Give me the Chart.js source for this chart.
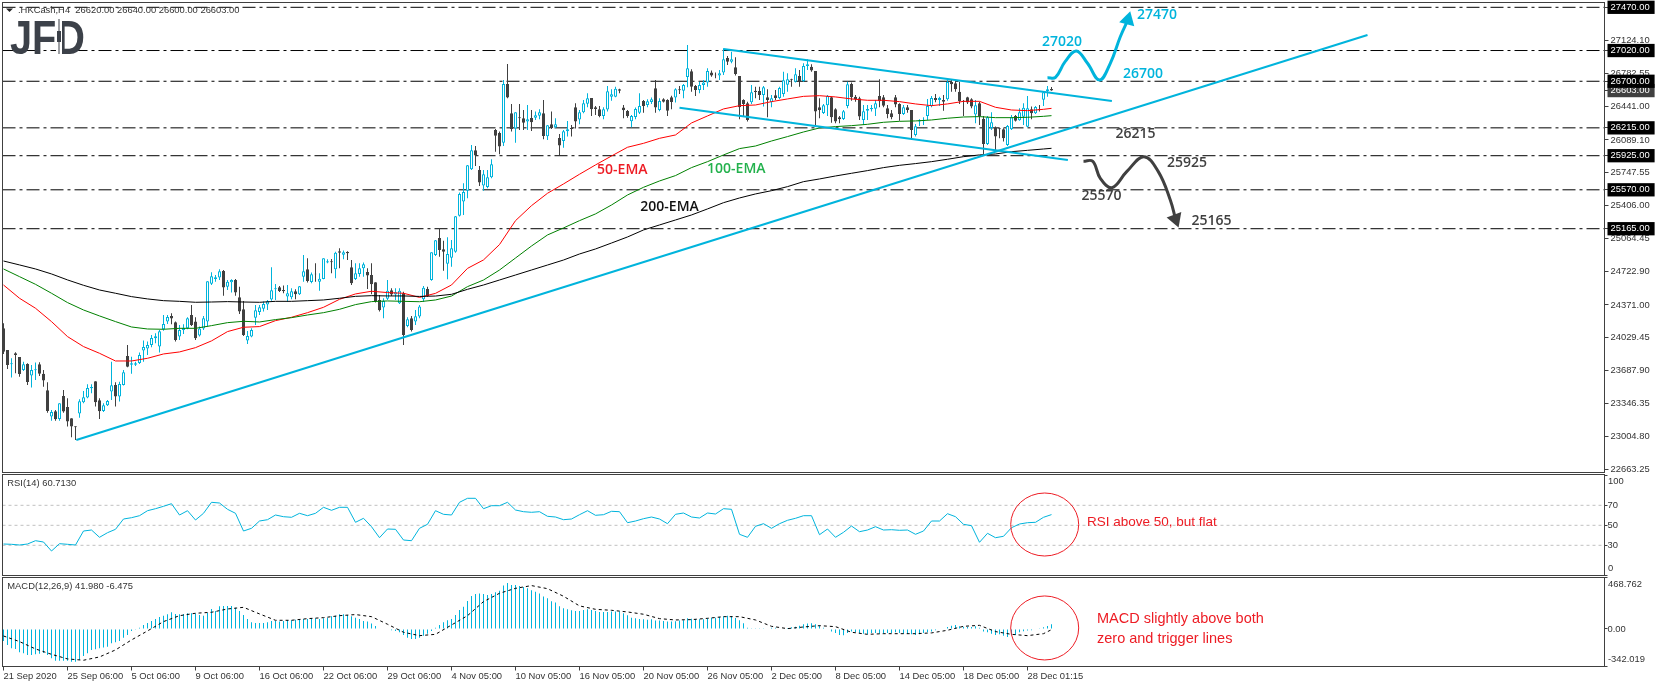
<!DOCTYPE html>
<html>
<head>
<meta charset="utf-8">
<title>HKCash H4</title>
<script src="https://cdn.jsdelivr.net/npm/chart.js@4"></script>
<style>
html, body { margin: 0; padding: 0; background: #fff; overflow: hidden; }
canvas { position: absolute; left: 0; display: block; }
</style>
</head>
<body>
<canvas id="price" width="1655" height="474" style="top:0"></canvas>
<canvas id="rsi" width="1655" height="102" style="top:474px"></canvas>
<canvas id="macd" width="1655" height="111" style="top:576px"></canvas>
<script>
// candles, one row per ten H4 bars
const opens = [
24128,23903,23754,23868,23830,23695,23757,23636,23691,23754,
23656,23483,23209,23264,23185,23424,23309,23191,23108,23240,
23358,23407,23504,23577,23379,23268,23327,23469,23539,23417,
23539,23840,23750,23750,23767,23896,23917,23955,24024,23938,
24118,24198,24257,24191,24042,24111,24128,24267,24198,24052,
24125,24198,24593,24642,24656,24725,24562,24607,24632,24451,
24326,24000,24042,24239,24298,24333,24375,24427,24534,24555,
24527,24458,24451,24514,24482,24666,24743,24611,24697,24614,
24642,24812,24826,24743,24930,24895,24923,24763,24642,24694,
24753,24715,24684,24607,24423,24344,24437,24524,24479,24389,
24493,24153,24232,24198,24250,24430,24537,24631,24891,25068,
24950,24801,24863,24926,25301,25447,25561,25784,25981,25777,
25614,25600,25700,26193,26162,26061,26672,26366,26207,26325,
26314,26280,26318,26321,26342,26366,26127,26252,26221,26110,
26078,26179,26214,26429,26301,26377,26467,26526,26429,26408,
26339,26405,26540,26540,26616,26426,26391,26283,26328,26373,
26495,26453,26484,26627,26401,26512,26505,26533,26530,26616,
26602,26745,26804,26651,26609,26661,26686,26790,26769,26759,
26790,26943,26904,26845,26755,26505,26471,26481,26602,26599,
26557,26533,26481,26554,26526,26568,26665,26720,26696,26755,
26703,26859,26852,26807,26429,26370,26450,26533,26408,26325,
26307,26443,26672,26540,26523,26297,26394,26408,26415,26547,
26533,26419,26366,26533,26464,26360,26429,26401,26141,26280,
26283,26339,26443,26526,26505,26505,26512,26693,26679,26592,
26498,26533,26512,26353,26471,26311,26047,26214,26217,26210,
26200,26037,26200,26339,26294,26331,26227,26408,26366,26408,26508,26599,26620];
const closes = [
23885,23747,23764,23851,23653,23754,23570,23695,23702,23656,
23584,23268,23257,23181,23348,23261,23157,23105,23098,23368,
23410,23507,23518,23358,23264,23327,23372,23535,23417,23549,
23670,23729,23764,23764,23851,23934,23955,24028,24045,24097,
24173,24246,24229,24007,24111,24135,24232,24163,24024,24125,
24232,24618,24670,24659,24722,24552,24614,24632,24500,24302,
24059,24049,24111,24316,24347,24382,24409,24524,24545,24517,
24514,24493,24514,24482,24566,24722,24621,24691,24690,24645,
24857,24826,24815,24916,24916,24920,24909,24597,24701,24753,
24795,24677,24586,24406,24316,24413,24520,24479,24503,24520,
24059,24222,24111,24253,24354,24551,24464,24919,25044,24943,
24926,24902,24961,25294,25527,25548,25825,25981,25926,25645,
25732,25700,25836,26134,26020,26672,26530,26203,26377,26314,
26269,26304,26273,26346,26377,26131,26242,26214,26252,26030,
26179,26200,26203,26280,26377,26471,26523,26408,26412,26339,
26408,26596,26564,26623,26602,26398,26339,26339,26412,26443,
26443,26491,26512,26426,26495,26488,26394,26484,26616,26606,
26661,26835,26644,26609,26661,26686,26807,26759,26762,26783,
26929,26904,26929,26776,26429,26464,26297,26585,26589,26557,
26637,26505,26523,26526,26630,26710,26720,26713,26772,26696,
26859,26877,26811,26384,26401,26450,26547,26325,26280,26304,
26387,26668,26533,26512,26332,26387,26412,26422,26471,26491,
26446,26360,26325,26457,26360,26429,26401,26193,26231,26294,
26297,26443,26526,26505,26526,26488,26693,26668,26616,26495,
26488,26478,26436,26450,26339,26047,26325,26273,26124,26200,
26106,26235,26325,26290,26377,26425,26418,26366,26432,26401,26585,26616,26603];
const highs = [
24180,23903,23816,23879,23830,23781,23764,23747,23771,23774,
23695,23566,23278,23278,23348,23486,23400,23191,23108,23389,
23476,23545,23545,23577,23400,23348,23382,23781,23566,23573,
23695,23955,23833,23781,23875,24000,23990,24059,24076,24111,
24267,24267,24285,24198,24163,24170,24243,24371,24243,24146,
24257,24618,24711,24684,24743,24736,24632,24638,24642,24562,
24413,24101,24128,24371,24371,24406,24423,24763,24590,24569,
24573,24579,24545,24534,24569,24892,24857,24708,24805,24701,
24857,24847,24850,24926,24961,24937,24930,24840,24805,24805,
24812,24753,24805,24607,24475,24441,24632,24545,24545,24545,
24510,24243,24257,24319,24370,24568,24562,24919,25047,25169,
25040,25075,25047,25297,25541,25638,25829,26037,26026,25818,
25777,25777,25888,26203,26176,26714,26880,26464,26377,26464,
26401,26453,26401,26384,26408,26505,26245,26384,26314,26151,
26193,26287,26245,26471,26401,26505,26575,26526,26443,26443,
26429,26651,26616,26644,26623,26453,26401,26349,26426,26575,
26505,26512,26530,26714,26523,26523,26512,26550,26627,26651,
26672,27078,26825,26661,26696,26714,26835,26811,26790,26818,
27043,26963,27008,26949,26755,26512,26488,26661,26644,26644,
26651,26616,26557,26609,26644,26800,26783,26727,26835,26818,
26887,26929,26877,26807,26523,26464,26557,26540,26419,26339,
26401,26696,26686,26557,26540,26453,26453,26453,26505,26720,
26557,26453,26401,26557,26471,26453,26453,26401,26255,26304,
26325,26516,26547,26568,26540,26557,26714,26714,26714,26696,
26505,26540,26523,26505,26488,26339,26339,26377,26228,26217,
26210,26245,26349,26349,26419,26470,26547,26436,26442,26453,26592,26651,26640];
const lows = [
23861,23705,23615,23660,23625,23684,23538,23511,23590,23632,
23521,23250,23167,23167,23167,23250,23105,22994,22966,23198,
23348,23400,23452,23313,23184,23257,23320,23382,23313,23365,
23532,23722,23656,23736,23757,23781,23851,23931,23972,23875,
24104,24173,24170,23990,24007,24069,24118,24153,24007,24042,
24111,24146,24579,24614,24632,24468,24527,24500,24468,24278,
24049,23965,24035,24163,24267,24302,24319,24416,24423,24507,
24493,24406,24430,24430,24475,24614,24604,24597,24614,24520,
24638,24805,24701,24649,24753,24847,24840,24579,24632,24666,
24666,24538,24482,24396,24302,24232,24423,24465,24423,24382,
23955,24139,24094,24163,24232,24405,24457,24624,24881,24874,
24728,24638,24770,24915,25291,25308,25482,25777,25818,25610,
25561,25586,25690,25967,25940,26026,26523,26176,26061,26193,
26193,26193,26183,26297,26304,26096,26089,26203,26210,25933,
26009,26124,26124,26207,26252,26366,26429,26339,26349,26325,
26304,26384,26498,26533,26575,26314,26321,26221,26304,26360,
26373,26429,26464,26373,26387,26478,26339,26408,26478,26568,
26523,26637,26592,26547,26575,26609,26644,26748,26731,26714,
26766,26870,26887,26759,26304,26339,26280,26464,26523,26505,
26436,26325,26429,26505,26512,26540,26592,26644,26686,26644,
26696,26818,26800,26245,26314,26360,26339,26269,26262,26262,
26297,26419,26498,26488,26297,26245,26297,26384,26339,26429,
26429,26314,26304,26429,26290,26349,26373,26089,26124,26235,
26245,26297,26429,26481,26443,26394,26498,26592,26592,26464,
26339,26464,26419,26262,26245,25943,26037,26193,25978,26106,
26072,26026,26193,26280,26290,26245,26220,26304,26359,26384,26443,26540,26600];

const ema50 = [24579,24441,24337,24198,24042,23938,23868,23788,23788,23816,23861,23882,23927,23997,24094,24139,24146,24208,24243,24291,24347,24430,24486,24514,24500,24493,24450,
24492,24579,24752,24840,25000,25249,25405,25534,25631,25732,25829,25922,26013,26054,26106,26141,26266,26339,26412,26446,26453,26488,26516,26543,26550,26537,26516,26502,26502,26488,26464,26446,26464,26491,26491,26429,26401,26394,26408,26418];
const ema100 = [24746,24666,24586,24493,24396,24319,24257,24198,24142,24121,24118,24128,24128,24156,24187,24201,24194,24219,24239,24267,24291,24326,24375,24406,24413,24409,24405,
24423,24464,24562,24631,24735,24860,24985,25100,25173,25249,25319,25412,25516,25596,25662,25718,25801,25863,25933,25999,26026,26078,26124,26172,26214,26228,26238,26252,26273,26283,26287,26297,26315,26328,26332,26321,26321,26325,26335,26342];
const ema200 = [24829,24788,24746,24694,24632,24576,24527,24493,24458,24434,24416,24409,24399,24402,24406,24402,24399,24409,24409,24416,24423,24441,24461,24468,24465,24465,24460,
24464,24482,24534,24579,24631,24683,24735,24787,24839,24902,24954,25016,25079,25152,25204,25256,25308,25371,25436,25485,25527,25561,25603,25655,25683,25714,25742,25770,25801,25825,25843,25863,25888,25915,25933,25943,25967,25981,25995,26002];

// RSI
const rsiValues = [31.3,31,30.3,31.3,34.6,33.3,24.3,31.6,31,30.3,44.3,45.3,38,42.6,46,56.3,57.6,59.6,64.6,66.6,69,71.6,60.3,64.6,55.3,62,73,72.3,66,62,44.3,47,54.3,55.6,60.3,58.6,58,62,59.6,62,68,65,68,68,53,57,48.6,37.6,46.3,46,35.3,34.6,47,51,64.6,61,60.3,73,77,77,66.6,69.6,69.6,73,65.3,
63.6,63,63.6,59,58.3,55.6,56.3,60.6,64.6,60,60.6,64,63.6,52.6,54.3,56.6,58.3,56.3,51.6,61,62.3,58.3,57.3,62.3,61.3,66.6,66,41,38,49,51.6,47,51.6,55,57,59.6,59.6,40.6,46.3,38,43,49.3,43.6,45.3,48.6,45.3,45.6,45,45.3,41,44.3,54.3,54.3,61.6,58.6,51,49.6,33,42,37.6,39,47.6,51.3,52.6,53,58,60.7];
const rsiLevels = [70, 50, 30];

// MACD histogram for every bar, signal line every fourth bar plus the last one
const macdBars = [-109,-146,-176,-182,-213,-222,-237,-237,-231,-225,-219,-237,-267,-289,-289,-289,-289,-298,-298,-282,-246,-222,-191,-185,-176,-170,-161,-131,-121,-109,-79,-55,-18,-3,12,36,55,73,91,109,121,134,152,137,134,137,143,143,140,128,121,146,182,164,207,210,210,210,194,164,128,91,61,55,55,55,61,73,73,67,73,79,79,85,85,91,91,97,97,91,97,103,115,121,134,134,128,115,103,91,73,67,49,27,0,-6,-6,-12,-18,-30,-55,-79,-91,-91,-79,-61,-43,-18,12,36,61,79,91,128,173,203,255,301,319,322,319,310,319,334,349,395,419,401,401,392,
382,370,352,340,322,295,279,252,240,207,188,179,170,164,164,173,179,173,164,155,155,155,158,158,158,143,125,103,97,91,88,85,88,76,76,73,67,67,70,76,79,97,94,88,88,88,97,103,103,109,115,121,118,100,79,52,12,6,6,6,3,0,12,12,0,0,9,15,21,30,43,49,52,43,33,12,0,-24,-36,-55,-58,-36,-24,-30,-36,-43,-49,-36,-36,-43,-43,-36,-36,-30,-36,-43,-43,-49,-55,-49,-36,-30,-24,-12,-6,0,18,30,36,24,21,18,18,24,12,-24,-30,-43,-55,-49,-61,-73,-55,-55,-30,-20,-15,-12,-6,6,15,28,42];
const macdSignal = [-64,-115,-182,-231,-273,-285,-255,-191,-100,-18,67,121,143,152,182,197,137,79,79,94,103,121,131,112,43,-30,-61,-49,36,121,249,325,370,
395,367,298,210,179,170,155,134,94,82,85,97,112,112,82,24,3,18,30,21,-30,-49,-43,-43,-43,-36,-12,24,33,-24,-49,-61,-43,-6.475];

const levels = [27470, 27020, 26700, 26215, 25925, 25570, 25165];
// [bar, price] ends of the drawn trend lines
const trendLines = [
    [[18.2, 22966], [341, 27182]],
    [[180, 27036], [277.1, 26495]],
    [[169, 26425], [266.1, 25880]]
];
const upPath = [[261, 26737], [263, 26741], [265.4, 26904], [268.2, 27015], [271, 26887], [274, 26713], [276.7, 26887], [279.2, 27164], [281.1, 27338]];
const downPath = [[270, 25867], [272.3, 25867], [274.2, 25690], [277.1, 25592], [280.8, 25759], [285.1, 25915], [288.7, 25759], [291.7, 25464], [293, 25266]];

const priceTicks = [27124.10, 26782.55, 26441, 26089.10, 25747.55, 25406, 25064.45, 24722.90, 24371, 24029.45, 23687.90, 23346.35, 23004.80, 22663.25];
const dateTicks = ['21 Sep 2020', '25 Sep 06:00', '5 Oct 06:00', '9 Oct 06:00', '16 Oct 06:00', '22 Oct 06:00', '29 Oct 06:00', '4 Nov 05:00', '10 Nov 05:00', '16 Nov 05:00', '20 Nov 05:00', '26 Nov 05:00', '2 Dec 05:00', '8 Dec 05:00', '14 Dec 05:00', '18 Dec 05:00', '28 Dec 01:15'];

const CYAN = '#00b4dc', DARK = '#404040', RED = '#ed1c24';
const AXIS_W = 50.5;
const axisFont = { family: 'Liberation Sans', size: 9.4 };
const noteFont = '600 14px "Open Sans"';

// text put on the price panel: text, bar, price, colour
const priceNotes = [
    ['27470', 283.4, 27390, CYAN], ['27020', 259.6, 27109, CYAN], ['26700', 279.9, 26776, CYAN],
    ['26215', 278, 26151, DARK], ['25925', 290.9, 25849, DARK], ['25570', 269.5, 25506, DARK], ['25165', 297, 25245, DARK],
    ['50-EMA', 148.4, 25776, RED], ['100-EMA', 175.9, 25787, '#22b14c'], ['200-EMA', 159.2, 25391, '#111']
];

Chart.defaults.animation = false;
Chart.defaults.events = [];
Chart.defaults.font.family = axisFont.family;
Chart.defaults.plugins.legend.display = false;
Chart.defaults.plugins.tooltip.enabled = false;

function pts(bars, values) { return values.map((v, i) => ({ x: bars[i], y: v })); }
const allBars = highs.map((_, i) => i);
const everyFourth = ema50.map((_, i) => (i === ema50.length - 1 ? 262 : i * 4));
const everySecond = rsiValues.map((_, i) => (i === rsiValues.length - 1 ? 262 : i * 2));

function xAxis() {
    return { type: 'linear', display: false, min: -0.25, max: 400.25, offset: false, grid: { display: false } };
}
function lineSet(data, color, width, order, extra) {
    return Object.assign({ type: 'line', data: data, borderColor: color, borderWidth: width, pointRadius: 0, tension: 0, order: order }, extra || {});
}
// the panel geometry is fixed, so the axis may not ask for room of its own
function fitAxis(s) {
    s.width = AXIS_W;
    s.paddingTop = 0;
    s.paddingBottom = 0;
}
function frame(chart) {
    const a = chart.chartArea, c = chart.ctx;
    c.save();
    c.strokeStyle = DARK;
    c.lineWidth = 1;
    c.strokeRect(a.left, a.top, a.right - a.left, a.bottom - a.top);
    c.restore();
}
function label(c, text, x, y, font, color) {
    c.font = font;
    c.fillStyle = color;
    c.textBaseline = 'middle';
    c.textAlign = 'left';
    c.fillText(text, x, y);
}
function ring(chart, bar, value, rx, ry) {
    const c = chart.ctx;
    c.save();
    c.strokeStyle = RED;
    c.lineWidth = 1;
    c.beginPath();
    c.ellipse(chart.scales.x.getPixelForValue(bar), chart.scales.y.getPixelForValue(value), rx, ry, 0, 0, Math.PI * 2);
    c.stroke();
    c.restore();
}
const smallFont = axisFont.size + 'px "' + axisFont.family + '"';

// price panel
new Chart(document.getElementById('price'), {
    type: 'bar',
    data: {
        datasets: [
            { data: allBars.map(i => ({ x: i, y: [lows[i], highs[i]] })), barThickness: 1, grouped: false, inflateAmount: 0, order: 6,
              backgroundColor: allBars.map(i => closes[i] >= opens[i] ? CYAN : DARK), borderWidth: 0 },
            { data: allBars.map(i => ({ x: i, y: [opens[i], closes[i]] })), barThickness: 3, grouped: false, inflateAmount: 0, order: 5,
              backgroundColor: allBars.map(i => closes[i] >= opens[i] ? '#fff' : DARK),
              borderColor: allBars.map(i => closes[i] >= opens[i] ? CYAN : DARK), borderWidth: 1, borderSkipped: false },
            lineSet(pts(everyFourth, ema200), '#000', 1, 4),
            lineSet(pts(everyFourth, ema100), '#008000', 1, 4),
            lineSet(pts(everyFourth, ema50), '#ff0000', 1, 4),
            ...levels.map(v => lineSet([{ x: -0.25, y: v }, { x: 400.25, y: v }], '#000', 1, 7, { borderDash: [13, 4, 3, 4] })),
            ...trendLines.map(t => lineSet(t.map(p => ({ x: p[0], y: p[1] })), CYAN, 2, 3)),
            lineSet(upPath.map(p => ({ x: p[0], y: p[1] })), CYAN, 3, 2, { tension: 0.4 }),
            lineSet(downPath.map(p => ({ x: p[0], y: p[1] })), DARK, 3, 2, { tension: 0.4 }),
            lineSet([{ x: upPath[8][0], y: upPath[8][1] }], CYAN, 0, 1, { pointRadius: 9, pointStyle: 'triangle', rotation: 15, pointBackgroundColor: CYAN, pointBorderWidth: 0 }),
            lineSet([{ x: downPath[8][0], y: downPath[8][1] }], DARK, 0, 1, { pointRadius: 9, pointStyle: 'triangle', rotation: 160, pointBackgroundColor: DARK, pointBorderWidth: 0 })
        ]
    },
    options: {
        responsive: false,
        layout: { autoPadding: false, padding: { left: 2.5, top: 2.5, bottom: 1.5, right: 0 } },
        scales: {
            x: xAxis(),
            y: {
                position: 'right', min: 22627, max: 27520,
                afterFit: fitAxis,
                afterBuildTicks: s => {
                    s.ticks = priceTicks.concat(26603, levels).map(v => ({ value: v }));
                },
                border: { display: false },
                grid: { drawOnChartArea: false, tickLength: 4, color: DARK },
                ticks: {
                    autoSkip: false, padding: 2, font: axisFont,
                    color: c => (levels.includes(c.tick.value) || c.tick.value === 26603) ? '#fff' : '#333',
                    showLabelBackdrop: c => levels.includes(c.tick.value) || c.tick.value === 26603,
                    backdropColor: c => c.tick.value === 26603 ? DARK : '#000',
                    backdropPadding: { left: 3, right: 5, top: 1, bottom: 1 },
                    callback: v => v.toFixed(2)
                }
            }
        }
    },
    plugins: [{
        id: 'priceDecor',
        afterDraw(chart) {
            const c = chart.ctx, xs = chart.scales.x, ys = chart.scales.y;
            frame(chart);
            c.save();
            priceNotes.forEach(n => label(c, n[0], xs.getPixelForValue(n[1]), ys.getPixelForValue(n[2]), noteFont, n[3]));
            // header
            c.fillStyle = '#222';
            c.beginPath();
            c.moveTo(6, 8.5); c.lineTo(13, 8.5); c.lineTo(9.5, 12);
            c.fill();
            label(c, '.HKCash,H4  26620.00 26640.00 26600.00 26603.00', 18, 10.5, smallFont, '#333');
            // logo
            c.font = 'bold 48px "Liberation Sans"';
            c.fillStyle = '#3c4149';
            c.textBaseline = 'alphabetic';
            c.fillText('JFD', 10, 54, 75);
            c.fillStyle = '#fff';
            c.fillRect(56, 19, 6, 36);
            c.fillStyle = '#3c4149';
            c.fillRect(58.5, 19, 1, 35);
            c.fillRect(57, 31, 4, 11);
            c.restore();
        }
    }]
});

// RSI panel
new Chart(document.getElementById('rsi'), {
    type: 'line',
    data: {
        datasets: [
            lineSet(pts(everySecond, rsiValues), CYAN, 1, 1),
            ...rsiLevels.map(v => lineSet([{ x: -0.25, y: v }, { x: 400.25, y: v }], '#c0c0c0', 1, 2, { borderDash: [3, 3] }))
        ]
    },
    options: {
        responsive: false,
        layout: { autoPadding: false, padding: { left: 2.5, top: 0.5, bottom: 0.5, right: 0 } },
        scales: {
            x: xAxis(),
            y: {
                position: 'right', min: -0.2, max: 100.8,
                afterFit: fitAxis,
                afterBuildTicks: s => { s.ticks = [100, 70, 50, 30, 0].map(v => ({ value: v })); },
                border: { display: false },
                grid: { drawOnChartArea: false, tickLength: 3, color: DARK },
                ticks: { autoSkip: false, padding: 0, font: axisFont, color: '#333', callback: v => (v === 100 || v === 0) ? '' : String(v) }
            }
        }
    },
    plugins: [{
        id: 'rsiDecor',
        afterDraw(chart) {
            const c = chart.ctx, ys = chart.scales.y;
            frame(chart);
            c.save();
            label(c, 'RSI(14) 60.7130', 7.3, 9.5, smallFont, '#333');
            label(c, '100', 1608, ys.getPixelForValue(100) + 6, smallFont, '#333');
            label(c, '0', 1608, ys.getPixelForValue(0) - 7, smallFont, '#333');
            ring(chart, 260.3, 50.8, 34, 31.5);
            label(c, 'RSI above 50, but flat', 1087, ys.getPixelForValue(53), '13.5px "Liberation Sans"', RED);
            c.restore();
        }
    }]
});

// MACD panel
new Chart(document.getElementById('macd'), {
    type: 'bar',
    data: {
        datasets: [
            { data: pts(allBars, macdBars), backgroundColor: CYAN, barThickness: 1, grouped: false, inflateAmount: 0, borderWidth: 0, order: 2 },
            lineSet(pts(everyFourth, macdSignal), '#000', 1, 1, { borderDash: [3, 3] })
        ]
    },
    options: {
        responsive: false,
        layout: { autoPadding: false, padding: { left: 2.5, top: 1.5, bottom: 0, right: 0 } },
        scales: {
            x: {
                type: 'linear', min: -0.25, max: 400.25, offset: false,
                afterFit: s => { s.height = 20.5; },
                afterBuildTicks: s => { s.ticks = dateTicks.map((_, i) => ({ value: i * 16 })); },
                border: { display: false },
                grid: { drawOnChartArea: false, tickLength: 4, color: DARK, offset: false },
                ticks: { autoSkip: false, maxRotation: 0, align: 'start', padding: 0, font: axisFont, color: '#333', callback: v => dateTicks[v / 16] }
            },
            y: {
                position: 'right', min: -342.019, max: 468.762,
                afterFit: fitAxis,
                afterBuildTicks: s => { s.ticks = [468.762, 0, -342.019].map(v => ({ value: v })); },
                border: { display: false },
                grid: { drawOnChartArea: false, tickLength: 3, color: DARK },
                ticks: { autoSkip: false, padding: 0, font: axisFont, color: '#333', callback: v => v === 0 ? '0.00' : '' }
            }
        }
    },
    plugins: [{
        id: 'macdDecor',
        afterDraw(chart) {
            const c = chart.ctx, ys = chart.scales.y;
            frame(chart);
            c.save();
            label(c, 'MACD(12,26,9) 41.980 -6.475', 7.3, 10.5, smallFont, '#333');
            label(c, '468.762', 1608, ys.getPixelForValue(468.762) + 7, smallFont, '#333');
            label(c, '-342.019', 1608, ys.getPixelForValue(-342.019) - 7, smallFont, '#333');
            ring(chart, 260.3, 9, 34, 32);
            label(c, 'MACD slightly above both', 1097, ys.getPixelForValue(93), '14.5px "Liberation Sans"', RED);
            label(c, 'zero and trigger lines', 1097, ys.getPixelForValue(-90), '14.5px "Liberation Sans"', RED);
            c.restore();
        }
    }]
});
</script>
</body>
</html>
